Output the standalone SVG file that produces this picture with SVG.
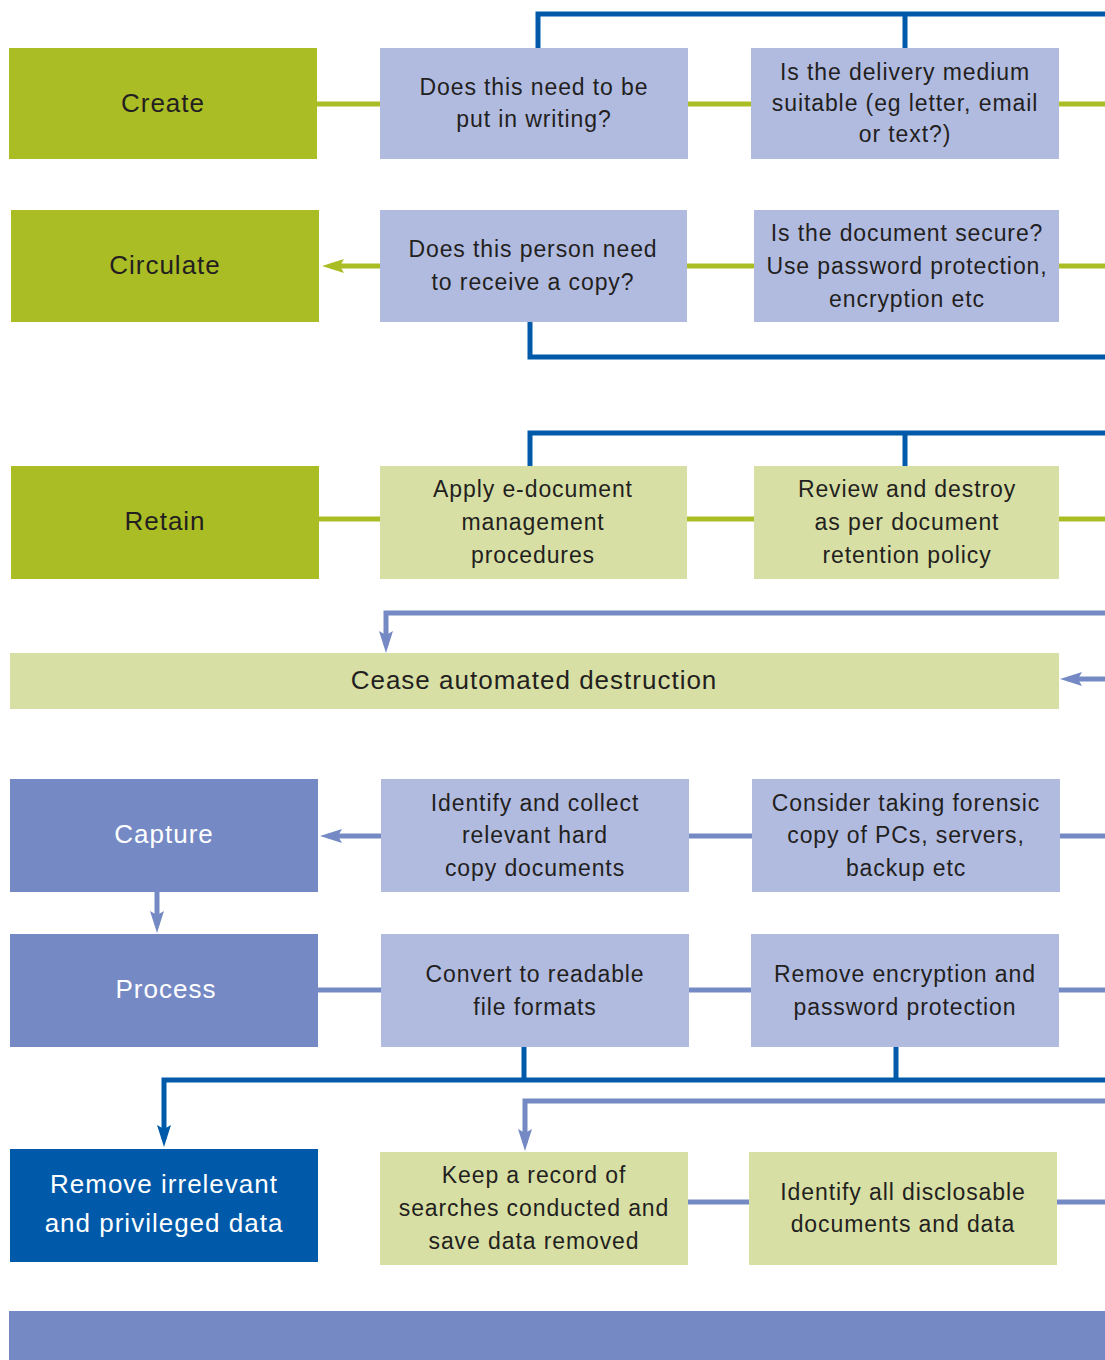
<svg xmlns="http://www.w3.org/2000/svg" width="1105" height="1360" viewBox="0 0 1105 1360">
<defs>
<style>
.t{font-family:"Liberation Sans",Arial,sans-serif;font-size:23px;fill:#231f20;text-anchor:middle;letter-spacing:0.9px}
.h{font-family:"Liberation Sans",Arial,sans-serif;font-size:26px;fill:#231f20;text-anchor:middle;letter-spacing:1px}
.w{fill:#ffffff}
.g{fill:#abbd24}
.lb{fill:#b1bbe0}
.lg{fill:#d8dfa5}
.mb{fill:#758ac4}
.db{fill:#005aa9}
.cg{stroke:#abbd24;stroke-width:5;fill:none}
.cm{stroke:#758ac4;stroke-width:5;fill:none}
.cd{stroke:#005aa9;stroke-width:5;fill:none}
</style>
<marker id="ag" viewBox="0 0 22 14" refX="14" refY="7" markerWidth="22" markerHeight="14" orient="auto" markerUnits="userSpaceOnUse"><path d="M0,0 L22,7 L0,14 L4,7 z" fill="#abbd24"/></marker>
<marker id="am" viewBox="0 0 22 14" refX="14" refY="7" markerWidth="22" markerHeight="14" orient="auto" markerUnits="userSpaceOnUse"><path d="M0,0 L22,7 L0,14 L4,7 z" fill="#758ac4"/></marker>
<marker id="ad" viewBox="0 0 22 14" refX="14" refY="7" markerWidth="22" markerHeight="14" orient="auto" markerUnits="userSpaceOnUse"><path d="M0,0 L22,7 L0,14 L4,7 z" fill="#005aa9"/></marker>
</defs>
<g id="connectors">
<path class="cd" d="M538,48 V14 H1105 M905,14 V48"/>
<path class="cg" d="M317,104 H380 M688,104 H751 M1059,104 H1105"/>
<path class="cg" d="M380,266 H330" marker-end="url(#ag)"/>
<path class="cg" d="M687,266 H754 M1059,266 H1105"/>
<path class="cd" d="M530,322 V357 H1105"/>
<path class="cd" d="M530,466 V433 H1105 M905,433 V466"/>
<path class="cg" d="M319,519 H380 M687,519 H754 M1059,519 H1105"/>
<path class="cm" d="M1105,613 H386 V645" marker-end="url(#am)"/>
<path class="cm" d="M1105,679 H1068" marker-end="url(#am)"/>
<path class="cm" d="M381,836 H328" marker-end="url(#am)"/>
<path class="cm" d="M689,836 H752 M1060,836 H1105"/>
<path class="cm" d="M157,892 V925" marker-end="url(#am)"/>
<path class="cm" d="M318,990 H381 M689,990 H751 M1059,990 H1105"/>
<path class="cd" d="M524,1047 V1080 M896,1047 V1080"/>
<path class="cd" d="M1105,1080 H164 V1139" marker-end="url(#ad)"/>
<path class="cm" d="M1105,1101 H525 V1143" marker-end="url(#am)"/>
<path class="cm" d="M688,1202 H749 M1057,1202 H1105"/>
</g>
<g id="create"><rect class="g" x="9" y="48" width="308" height="111"/><text class="h" x="163" y="112">Create</text></g>
<g id="need-writing"><rect class="lb" x="380" y="48" width="308" height="111"/><text class="t" x="534" y="95">Does this need to be</text><text class="t" x="534" y="127">put in writing?</text></g>
<g id="delivery-medium"><rect class="lb" x="751" y="48" width="308" height="111"/><text class="t" x="905" y="80">Is the delivery medium</text><text class="t" x="905" y="111">suitable (eg letter, email</text><text class="t" x="905" y="142">or text?)</text></g>
<g id="circulate"><rect class="g" x="11" y="210" width="308" height="112"/><text class="h" x="165" y="274">Circulate</text></g>
<g id="receive-copy"><rect class="lb" x="380" y="210" width="307" height="112"/><text class="t" x="533" y="257">Does this person need</text><text class="t" x="533" y="290">to receive a copy?</text></g>
<g id="document-secure"><rect class="lb" x="754" y="210" width="305" height="112"/><text class="t" x="907" y="241">Is the document secure?</text><text class="t" x="907" y="274">Use password protection,</text><text class="t" x="907" y="307">encryption etc</text></g>
<g id="retain"><rect class="g" x="11" y="466" width="308" height="113"/><text class="h" x="165" y="530">Retain</text></g>
<g id="apply-edoc"><rect class="lg" x="380" y="466" width="307" height="113"/><text class="t" x="533" y="497">Apply e-document</text><text class="t" x="533" y="530">management</text><text class="t" x="533" y="563">procedures</text></g>
<g id="review-destroy"><rect class="lg" x="754" y="466" width="305" height="113"/><text class="t" x="907" y="497">Review and destroy</text><text class="t" x="907" y="530">as per document</text><text class="t" x="907" y="563">retention policy</text></g>
<g id="cease"><rect class="lg" x="10" y="653" width="1049" height="56"/><text class="h" x="534" y="689">Cease automated destruction</text></g>
<g id="capture"><rect class="mb" x="10" y="779" width="308" height="113"/><text class="h w" x="164" y="843">Capture</text></g>
<g id="hard-copy"><rect class="lb" x="381" y="779" width="308" height="113"/><text class="t" x="535" y="811">Identify and collect</text><text class="t" x="535" y="843">relevant hard</text><text class="t" x="535" y="876">copy documents</text></g>
<g id="forensic-copy"><rect class="lb" x="752" y="779" width="308" height="113"/><text class="t" x="906" y="811">Consider taking forensic</text><text class="t" x="906" y="843">copy of PCs, servers,</text><text class="t" x="906" y="876">backup etc</text></g>
<g id="process"><rect class="mb" x="10" y="934" width="308" height="113"/><text class="h w" x="166" y="998">Process</text></g>
<g id="convert"><rect class="lb" x="381" y="934" width="308" height="113"/><text class="t" x="535" y="982">Convert to readable</text><text class="t" x="535" y="1015">file formats</text></g>
<g id="remove-encryption"><rect class="lb" x="751" y="934" width="308" height="113"/><text class="t" x="905" y="982">Remove encryption and</text><text class="t" x="905" y="1015">password protection</text></g>
<g id="remove-irrelevant"><rect class="db" x="10" y="1149" width="308" height="113"/><text class="h w" x="164" y="1193">Remove irrelevant</text><text class="h w" x="164" y="1232">and privileged data</text></g>
<g id="keep-record"><rect class="lg" x="380" y="1152" width="308" height="113"/><text class="t" x="534" y="1183">Keep a record of</text><text class="t" x="534" y="1216">searches conducted and</text><text class="t" x="534" y="1249">save data removed</text></g>
<g id="disclosable"><rect class="lg" x="749" y="1152" width="308" height="113"/><text class="t" x="903" y="1200">Identify all disclosable</text><text class="t" x="903" y="1232">documents and data</text></g>
<g id="bottom-bar"><rect class="mb" x="9" y="1311" width="1096" height="49"/></g>
</svg>
